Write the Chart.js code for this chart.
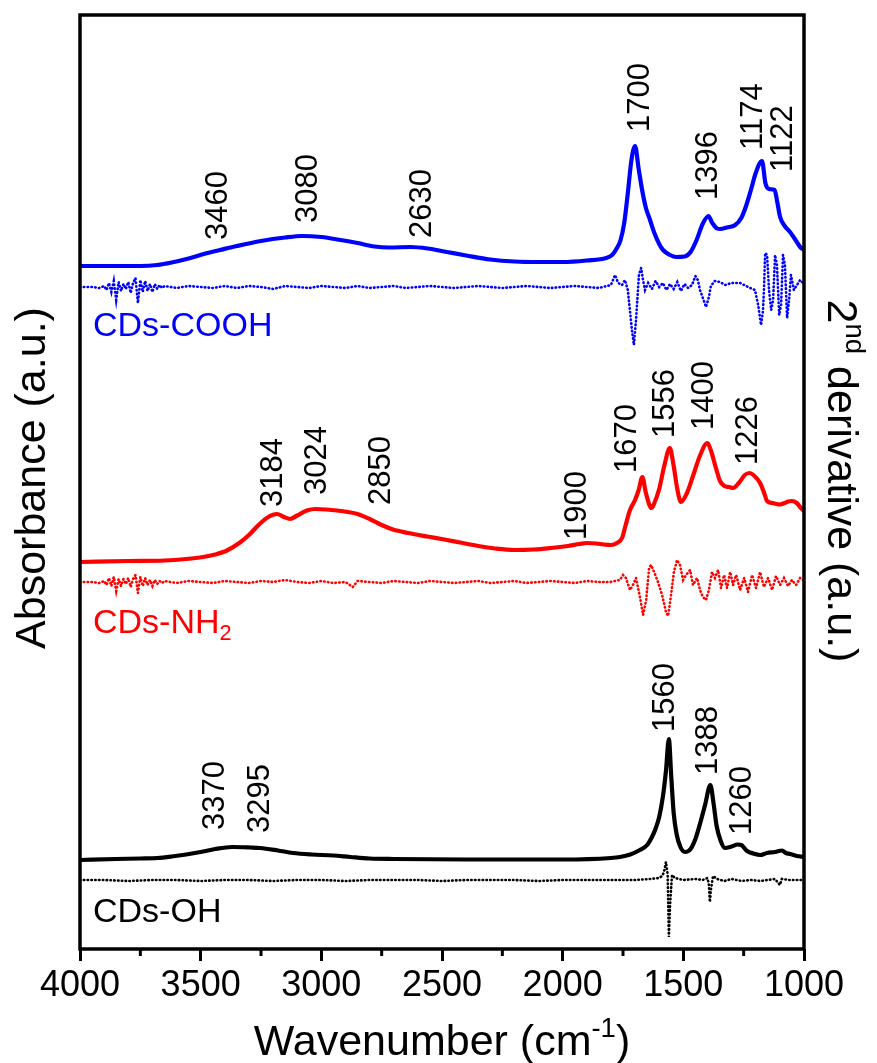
<!DOCTYPE html>
<html>
<head>
<meta charset="utf-8">
<title>FTIR spectra of CDs</title>
<script src="https://cdn.jsdelivr.net/npm/chart.js@4.4.0/dist/chart.umd.min.js"></script>
<style>
  html, body { margin: 0; padding: 0; background: #fff; }
  #wrap { width: 877px; height: 1063px; }
</style>
</head>
<body>
<div id="wrap"><canvas id="ftirChart"></canvas></div>
<script>
// CDs-COOH absorbance (offset, a.u.) vs wavenumber (cm-1)
const coohWn  = [4000, 3850, 3750, 3680, 3620, 3550, 3480, 3420, 3350, 3250, 3150, 3080, 3000, 2920, 2850, 2780, 2720, 2630, 2560, 2480, 2400, 2300, 2200, 2100, 2000, 1900, 1820, 1795, 1775, 1760, 1745, 1730, 1715, 1700, 1685, 1670, 1655, 1638, 1620, 1600, 1584, 1555, 1530, 1495, 1470, 1445, 1420, 1396, 1380, 1360, 1348, 1320, 1285, 1260, 1240, 1220, 1200, 1174, 1160, 1145, 1122, 1110, 1099, 1080, 1058, 1035, 1016, 1000];
const coohAbs = [68.3, 68.3, 68.3, 68.4, 68.65, 69.05, 69.55, 69.9, 70.3, 70.8, 71.15, 71.3, 71.2, 70.9, 70.6, 70.25, 70.15, 70.2, 70.05, 69.7, 69.35, 68.95, 68.75, 68.7, 68.7, 68.85, 69.1, 69.4, 70.1, 70.9, 72.6, 75.6, 78.9, 80.3, 78.0, 75.8, 74.1, 72.9, 71.6, 70.5, 69.9, 69.4, 69.2, 69.25, 69.7, 70.9, 72.5, 73.3, 72.6, 72.05, 72.0, 72.15, 72.4, 73.1, 74.3, 75.9, 77.6, 78.8, 76.6, 76.0, 75.9, 74.6, 73.2, 72.3, 71.7, 70.9, 70.2, 69.9];

// CDs-COOH second derivative
const coohD2Wn = [4000, 3950, 3920, 3900, 3890, 3880, 3870, 3860, 3850, 3840, 3830, 3820, 3810, 3800, 3790, 3780, 3770, 3760, 3750, 3740, 3730, 3720, 3710, 3700, 3690, 3680, 3670, 3660, 3650, 3600, 3550, 3500, 3450, 3400, 3350, 3300, 3250, 3200, 3150, 3100, 3050, 3000, 2950, 2900, 2850, 2800, 2750, 2700, 2650, 2600, 2550, 2500, 2450, 2400, 2350, 2300, 2250, 2200, 2150, 2100, 2050, 2000, 1950, 1900, 1850, 1800, 1783, 1770, 1754, 1742, 1730, 1713, 1705, 1696, 1684, 1675, 1667, 1659, 1646, 1630, 1615, 1600, 1585, 1570, 1555, 1540, 1525, 1510, 1495, 1480, 1464, 1450, 1440, 1431, 1419, 1406, 1394, 1386, 1370, 1348, 1327, 1300, 1265, 1232, 1203, 1190, 1178, 1170, 1166, 1161, 1153, 1145, 1136, 1128, 1120, 1112, 1103, 1095, 1087, 1079, 1070, 1062, 1054, 1042, 1029, 1016, 1004, 1000];
const coohD2   = [66.2, 66.2, 66.1, 66.3, 65.9, 66.6, 65.7, 66.8, 64.9, 66.7, 65.8, 66.5, 66.0, 66.7, 65.6, 66.6, 67.1, 64.6, 66.9, 65.7, 66.8, 65.8, 66.5, 65.7, 66.5, 66.0, 66.4, 66.1, 66.3, 66.1, 66.3, 66.2, 66.1, 66.3, 66.1, 66.3, 66.2, 66.0, 66.3, 66.2, 66.1, 66.3, 66.2, 66.1, 66.3, 66.1, 66.2, 66.3, 66.1, 66.2, 66.3, 66.2, 66.1, 66.2, 66.3, 66.2, 66.1, 66.2, 66.3, 66.2, 66.1, 66.2, 66.3, 66.2, 66.1, 66.4, 67.4, 66.6, 66.4, 66.9, 65.9, 61.9, 60.4, 62.9, 67.4, 68.1, 66.9, 65.9, 66.6, 66.0, 66.8, 66.2, 66.6, 65.9, 66.5, 66.0, 66.7, 65.8, 66.5, 66.1, 66.4, 67.3, 66.9, 65.9, 65.1, 64.2, 65.2, 66.3, 66.8, 66.7, 66.4, 66.6, 66.6, 66.2, 65.9, 64.4, 62.4, 63.8, 65.9, 69.6, 69.4, 65.9, 63.9, 64.9, 69.4, 68.4, 63.4, 64.4, 69.4, 68.4, 63.1, 64.9, 67.4, 65.9, 66.4, 66.9, 66.6, 66.6];

// CDs-NH2 absorbance
const nh2Wn  = [4000, 3800, 3650, 3560, 3490, 3440, 3391, 3340, 3300, 3260, 3220, 3184, 3155, 3130, 3100, 3060, 3024, 2980, 2935, 2890, 2850, 2800, 2750, 2703, 2640, 2562, 2490, 2425, 2350, 2280, 2200, 2120, 2050, 1980, 1930, 1900, 1860, 1830, 1800, 1775, 1754, 1740, 1721, 1700, 1685, 1670, 1655, 1632, 1620, 1600, 1580, 1556, 1540, 1525, 1510, 1485, 1460, 1430, 1400, 1385, 1365, 1348, 1330, 1310, 1294, 1270, 1245, 1226, 1205, 1182, 1165, 1153, 1130, 1115, 1099, 1080, 1065, 1050, 1030, 1016, 1000];
const nh2Abs = [38.7, 38.8, 38.85, 39.0, 39.2, 39.45, 39.85, 40.6, 41.4, 42.4, 43.2, 43.5, 43.2, 43.0, 43.35, 43.85, 44.0, 43.95, 43.85, 43.7, 43.5, 43.0, 42.4, 41.95, 41.6, 41.25, 40.95, 40.65, 40.3, 40.05, 39.9, 39.95, 40.1, 40.3, 40.5, 40.6, 40.55, 40.45, 40.4, 40.6, 41.1, 42.3, 43.9, 44.9, 45.9, 47.2, 45.6, 44.1, 44.6, 46.0, 48.2, 50.1, 48.3, 46.0, 44.7, 45.6, 47.3, 49.4, 50.6, 49.8, 48.1, 46.8, 46.3, 46.2, 46.1, 46.6, 47.4, 47.6, 47.3, 46.6, 45.6, 44.8, 44.6, 44.5, 44.45, 44.6, 44.75, 44.8, 44.6, 44.2, 43.8];

// CDs-NH2 second derivative
const nh2D2Wn = [4000, 3950, 3920, 3900, 3890, 3880, 3870, 3860, 3850, 3840, 3830, 3820, 3810, 3800, 3790, 3780, 3770, 3760, 3750, 3740, 3730, 3720, 3710, 3700, 3690, 3680, 3670, 3660, 3650, 3600, 3550, 3500, 3450, 3400, 3350, 3300, 3250, 3200, 3150, 3100, 3050, 3000, 2950, 2900, 2870, 2850, 2800, 2750, 2700, 2650, 2600, 2550, 2500, 2450, 2400, 2350, 2300, 2250, 2200, 2150, 2100, 2050, 2000, 1950, 1900, 1850, 1804, 1763, 1750, 1738, 1721, 1709, 1696, 1679, 1667, 1654, 1642, 1634, 1621, 1605, 1588, 1572, 1563, 1551, 1539, 1526, 1514, 1501, 1489, 1472, 1460, 1443, 1431, 1419, 1406, 1394, 1381, 1369, 1356, 1344, 1331, 1319, 1306, 1294, 1281, 1265, 1248, 1232, 1215, 1199, 1182, 1166, 1149, 1132, 1116, 1099, 1083, 1066, 1050, 1033, 1016, 1004, 1000];
const nh2D2   = [36.7, 36.7, 36.6, 36.8, 36.4, 37.1, 36.3, 37.2, 35.8, 37.0, 36.3, 37.0, 36.5, 37.1, 36.2, 37.0, 37.4, 35.6, 37.2, 36.3, 37.1, 36.4, 36.9, 36.3, 36.9, 36.5, 36.8, 36.6, 36.8, 36.6, 36.8, 36.7, 36.6, 36.8, 36.7, 36.6, 36.8, 36.7, 36.9, 36.7, 36.6, 36.8, 36.6, 36.7, 36.2, 36.8, 36.7, 36.6, 36.8, 36.7, 36.6, 36.8, 36.7, 36.6, 36.7, 36.8, 36.6, 36.7, 36.8, 36.6, 36.7, 36.8, 36.7, 36.6, 36.8, 36.7, 36.7, 36.9, 37.4, 37.1, 35.9, 36.4, 37.1, 35.1, 33.4, 34.9, 38.1, 38.4, 37.7, 36.7, 35.4, 33.7, 33.3, 35.4, 37.7, 38.9, 38.4, 36.9, 37.4, 37.9, 36.4, 37.1, 35.9, 35.2, 34.9, 35.9, 37.7, 37.1, 37.9, 36.1, 37.4, 36.1, 37.7, 36.4, 37.4, 35.9, 37.1, 35.7, 37.4, 36.1, 37.7, 36.2, 37.1, 35.9, 37.3, 36.4, 37.1, 36.3, 36.9, 36.4, 37.1, 36.9, 36.9];

// CDs-OH absorbance
const ohWn  = [4000, 3850, 3750, 3680, 3620, 3560, 3500, 3440, 3370, 3295, 3254, 3180, 3117, 3040, 2951, 2880, 2800, 2700, 2400, 2000, 1800, 1762, 1720, 1680, 1650, 1630, 1617, 1600, 1585, 1572, 1560, 1550, 1540, 1528, 1512, 1493, 1470, 1450, 1430, 1410, 1388, 1375, 1362, 1345, 1328, 1300, 1275, 1260, 1236, 1210, 1182, 1154, 1120, 1091, 1075, 1058, 1030, 1000];
const ohAbs = [8.9, 9.0, 9.05, 9.1, 9.25, 9.45, 9.7, 10.0, 10.2, 10.15, 10.1, 9.85, 9.6, 9.45, 9.35, 9.2, 9.05, 9.0, 8.95, 8.95, 9.1, 9.2, 9.45, 9.9, 10.4, 11.2, 11.9, 13.2, 15.2, 17.8, 21.0, 17.2, 13.6, 11.5, 10.2, 9.7, 10.0, 11.0, 12.6, 14.4, 16.4, 14.6, 12.3, 10.8, 10.1, 10.25, 10.45, 10.4, 9.8, 9.55, 9.4, 9.6, 9.7, 9.85, 9.6, 9.5, 9.3, 9.2];

// CDs-OH second derivative
const ohD2Wn = [4000, 3900, 3800, 3700, 3600, 3500, 3400, 3300, 3200, 3100, 3000, 2900, 2800, 2700, 2600, 2500, 2400, 2300, 2200, 2100, 2000, 1900, 1800, 1700, 1640, 1600, 1588, 1580, 1572, 1565, 1560, 1555, 1547, 1535, 1500, 1450, 1420, 1400, 1394, 1390, 1386, 1377, 1360, 1330, 1300, 1260, 1220, 1180, 1120, 1100, 1092, 1060, 1000];
const ohD2   = [6.9, 6.9, 6.8, 6.9, 6.9, 6.8, 6.9, 6.9, 6.8, 6.9, 6.9, 6.8, 6.9, 6.9, 6.9, 6.8, 6.9, 6.9, 6.9, 6.8, 6.9, 6.9, 6.9, 6.9, 7.0, 7.1, 7.3, 7.7, 8.7, 7.5, 1.2, 4.4, 7.4, 7.1, 6.9, 7.0, 6.9, 7.1, 6.4, 4.7, 5.9, 7.3, 7.0, 6.8, 7.0, 6.8, 6.9, 6.8, 7.0, 6.4, 7.0, 6.9, 6.9];

// assigned band positions (cm-1)
const coohPeaks = [3460, 3080, 2630, 1700, 1396, 1174, 1122];
const nh2Peaks  = [3184, 3024, 2850, 1900, 1670, 1556, 1400, 1226];
const ohPeaks   = [3370, 3295, 1560, 1388, 1260];

const xTicks = [4000, 3500, 3000, 2500, 2000, 1500, 1000];
const xMinorTicks = [3750, 3250, 2750, 2250, 1750, 1250];

// where each band label sits: sideways nudge in px, foot of the text in y units
const coohLabelPos = { dx: [8, 6, 12, 5, 0, -9, 9], foot: [70.9, 72.6, 71.1, 81.7, 74.9, 79.9, 77.7] };
const nh2LabelPos  = { dx: [-3, 2, 24, -9, -15, -4, -3, -1], foot: [44.2, 45.4, 44.4, 40.9, 47.6, 51.1, 51.9, 48.4] };
const ohLabelPos   = { dx: [-17, 10, -3, -2, 1], foot: [11.9, 11.6, 21.7, 17.4, 11.4] };

const FONT = "'Liberation Sans', Arial, Helvetica, sans-serif";
const BLUE = '#0000ff';
const RED = '#ff0000';
const BLACK = '#000000';

const toPoints = (xs, ys) => xs.map((x, i) => ({ x: x, y: ys[i] }));

function solid(label, xs, ys, color) {
  return {
    label: label,
    data: toPoints(xs, ys),
    borderColor: color,
    borderWidth: 4.2,
    pointRadius: 0,
    cubicInterpolationMode: 'monotone',
    borderJoinStyle: 'round'
  };
}

function dotted(label, xs, ys, color) {
  return {
    label: label,
    data: toPoints(xs, ys),
    borderColor: color,
    borderWidth: 2.6,
    borderDash: [0.5, 3.3],
    borderCapStyle: 'round',
    pointRadius: 0,
    tension: 0
  };
}

// text with super/subscript parts
function richWidth(ctx, parts, size) {
  let w = 0;
  parts.forEach(p => {
    ctx.font = (p.sup || p.sub ? size * 0.64 : size) + 'px ' + FONT;
    w += ctx.measureText(p.t).width;
  });
  return w;
}

function drawRich(ctx, parts, x, y, size) {
  let cx = x;
  parts.forEach(p => {
    const s = p.sup || p.sub ? size * 0.64 : size;
    ctx.font = s + 'px ' + FONT;
    let dy = 0;
    if (p.sup) dy = -size * 0.42;
    if (p.sub) dy = size * 0.22;
    ctx.fillText(p.t, cx, y + dy);
    cx += ctx.measureText(p.t).width;
  });
}

const decorPlugin = {
  id: 'decor',
  afterDatasetsDraw(chart) {
    const ctx = chart.ctx;
    const a = chart.chartArea;
    const xs = chart.scales.x;
    const ys = chart.scales.y;

    ctx.save();
    // frame
    ctx.strokeStyle = BLACK;
    ctx.lineWidth = 3.5;
    ctx.strokeRect(a.left, a.top, a.right - a.left, a.bottom - a.top);

    // minor ticks
    ctx.lineWidth = 3;
    xMinorTicks.forEach(v => {
      const px = xs.getPixelForValue(v);
      ctx.beginPath();
      ctx.moveTo(px, a.bottom);
      ctx.lineTo(px, a.bottom + 7);
      ctx.stroke();
    });

    // band labels, written upwards
    ctx.fillStyle = BLACK;
    ctx.font = '31px ' + FONT;
    ctx.textAlign = 'left';
    ctx.textBaseline = 'middle';
    const bandSets = [[coohPeaks, coohLabelPos], [nh2Peaks, nh2LabelPos], [ohPeaks, ohLabelPos]];
    bandSets.forEach(([peaks, pos]) => {
      peaks.forEach((wn, i) => {
        const px = xs.getPixelForValue(wn) + pos.dx[i];
        const py = ys.getPixelForValue(pos.foot[i]);
        ctx.save();
        ctx.translate(px, py);
        ctx.rotate(-Math.PI / 2);
        ctx.fillText(String(wn), 0, 0);
        ctx.restore();
      });
    });

    // sample names
    ctx.textBaseline = 'alphabetic';
    const names = [
      { parts: [{ t: 'CDs-COOH' }], color: BLUE, y: 61.3 },
      { parts: [{ t: 'CDs-NH' }, { t: '2', sub: true }], color: RED, y: 31.6 },
      { parts: [{ t: 'CDs-OH' }], color: BLACK, y: 2.7 }
    ];
    names.forEach(n => {
      ctx.fillStyle = n.color;
      drawRich(ctx, n.parts, a.left + 13, ys.getPixelForValue(n.y), 34);
    });

    // axis titles
    ctx.fillStyle = BLACK;
    const xTitle = [{ t: 'Wavenumber (cm' }, { t: '-1', sup: true }, { t: ')' }];
    const xw = richWidth(ctx, xTitle, 43);
    drawRich(ctx, xTitle, (a.left + a.right) / 2 - xw / 2, 1055, 43);

    const leftTitle = [{ t: 'Absorbance (a.u.)' }];
    const lw = richWidth(ctx, leftTitle, 43);
    ctx.save();
    ctx.translate(45, (a.top + a.bottom) / 2 - 4);
    ctx.rotate(-Math.PI / 2);
    drawRich(ctx, leftTitle, -lw / 2, 0, 43);
    ctx.restore();

    const rightTitle = [{ t: '2' }, { t: 'nd', sup: true }, { t: ' derivative (a.u.)' }];
    const rw = richWidth(ctx, rightTitle, 43);
    ctx.save();
    ctx.translate(828, (a.top + a.bottom) / 2 - 1);
    ctx.rotate(Math.PI / 2);
    drawRich(ctx, rightTitle, -rw / 2, 0, 43);
    ctx.restore();

    ctx.restore();
  }
};

Chart.defaults.font.family = FONT;
Chart.defaults.color = BLACK;

const ctx = document.getElementById('ftirChart').getContext('2d');

new Chart(ctx, {
  type: 'line',
  data: {
    datasets: [
      solid('CDs-COOH', coohWn, coohAbs, BLUE),
      dotted('CDs-COOH 2nd derivative', coohD2Wn, coohD2, BLUE),
      solid('CDs-NH2', nh2Wn, nh2Abs, RED),
      dotted('CDs-NH2 2nd derivative', nh2D2Wn, nh2D2, RED),
      solid('CDs-OH', ohWn, ohAbs, BLACK),
      dotted('CDs-OH 2nd derivative', ohD2Wn, ohD2, BLACK)
    ]
  },
  options: {
    responsive: true,
    maintainAspectRatio: false,
    animation: false,
    layout: { padding: { left: 80, right: 73, top: 15, bottom: 0 } },
    plugins: {
      legend: { display: false },
      tooltip: { enabled: false }
    },
    scales: {
      x: {
        type: 'linear',
        reverse: true,
        min: 1000,
        max: 4000,
        afterFit: scale => { scale.height = 114; },
        afterBuildTicks: scale => { scale.ticks = xTicks.map(v => ({ value: v })); },
        border: { display: false },
        grid: {
          drawOnChartArea: false,
          drawTicks: true,
          tickLength: 12,
          tickWidth: 3,
          tickColor: BLACK
        },
        ticks: {
          autoSkip: false,
          maxRotation: 0,
          padding: 3,
          color: BLACK,
          font: { size: 36 },
          callback: v => String(v)
        }
      },
      y: {
        display: false,
        min: 0,
        max: 93.4
      }
    }
  },
  plugins: [decorPlugin]
});
</script>
</body>
</html>
